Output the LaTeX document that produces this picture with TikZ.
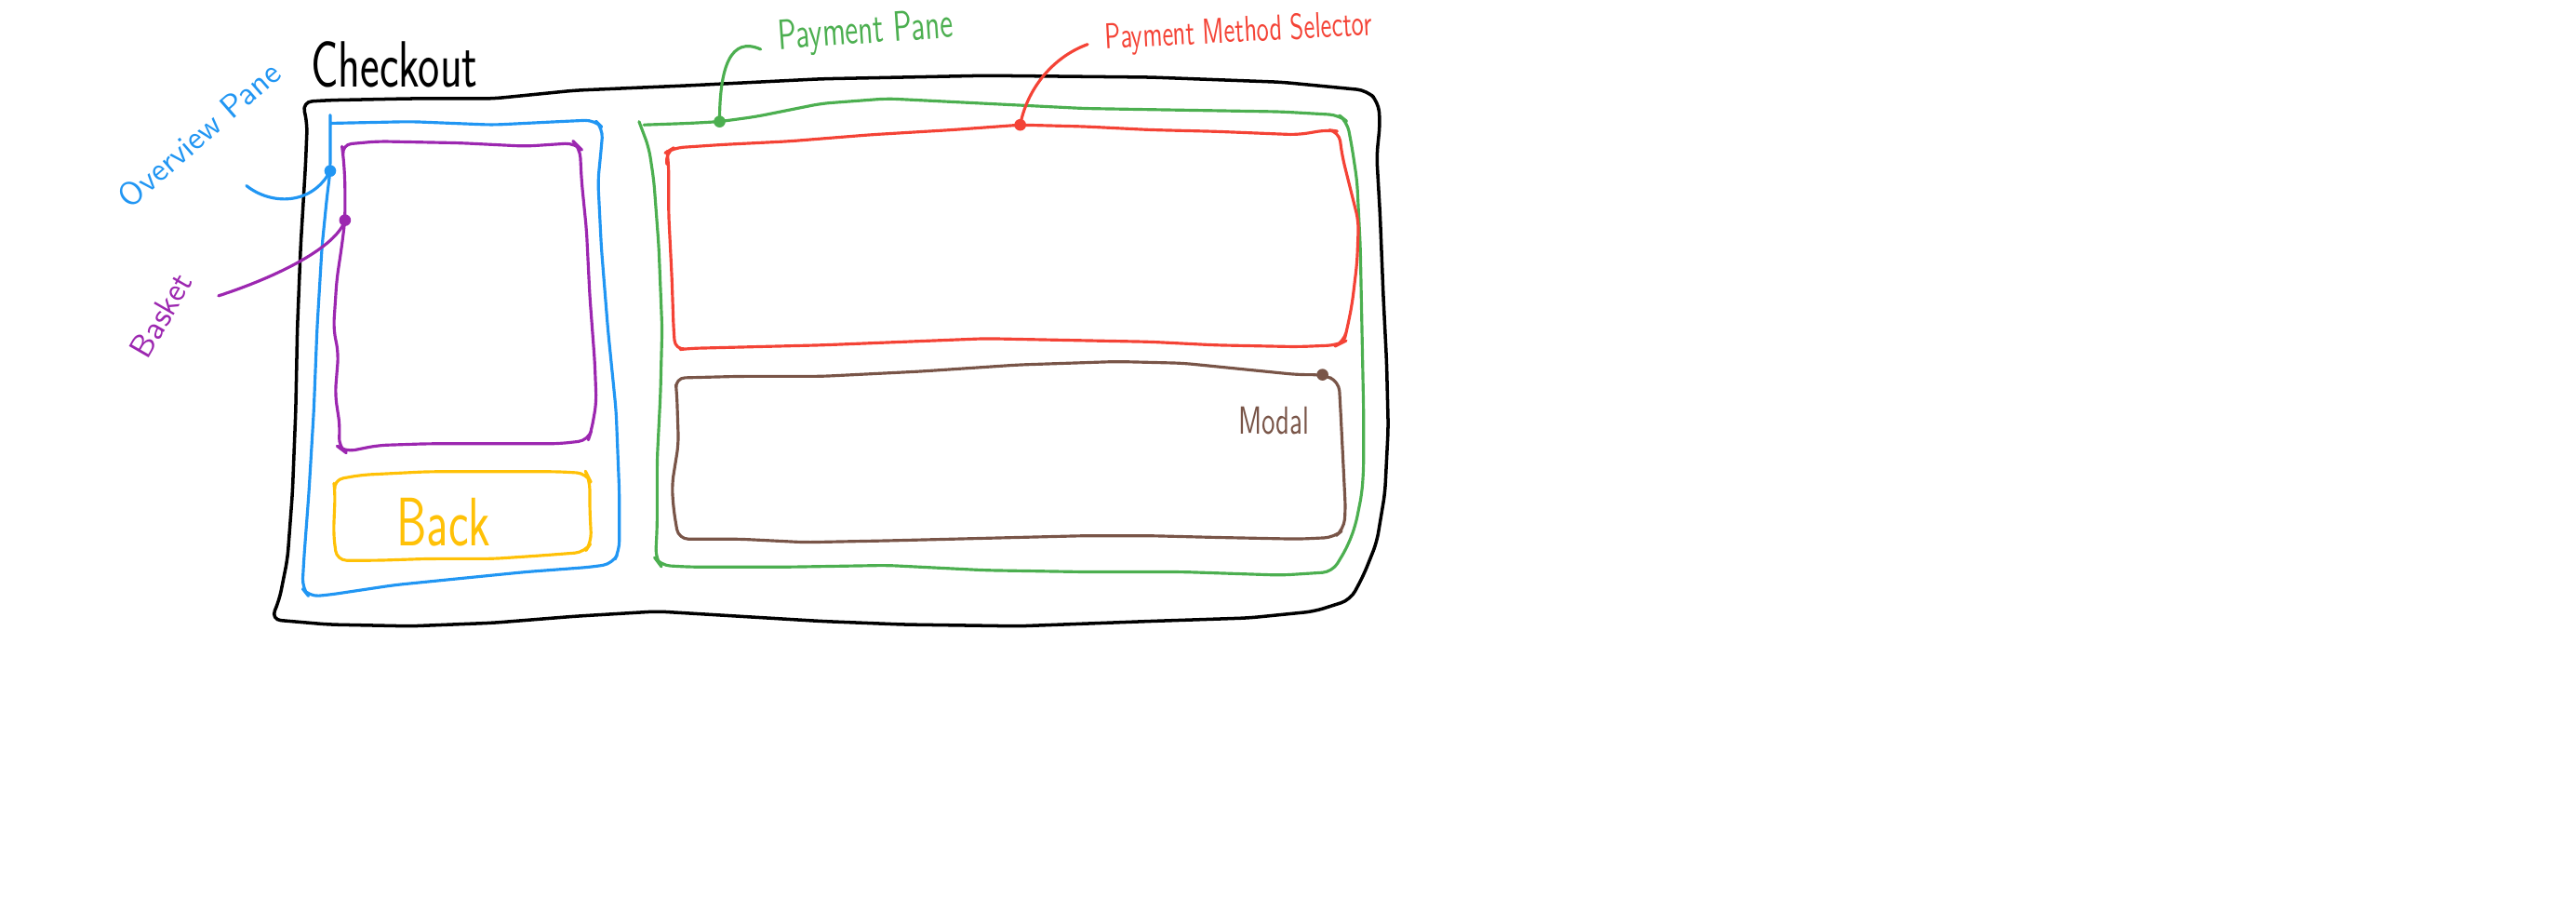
\documentclass[tikz,border=0pt]{standalone}
\usepackage{tikz}
\usetikzlibrary{positioning,calc}
\definecolor{sketchblue}{RGB}{33,150,243}
\definecolor{sketchpurple}{RGB}{156,39,176}
\definecolor{sketchgreen}{RGB}{76,175,80}
\definecolor{sketchred}{RGB}{244,67,54}
\definecolor{sketchbrown}{RGB}{121,85,72}
\definecolor{sketchyellow}{RGB}{255,193,7}
\newcommand{\narrow}[1]{\scalebox{0.7}[1]{#1}}
\tikzset{
  pane/.style={draw=#1, line width=0.9pt, rounded corners=3pt, line join=round, line cap=round},
  hand/.style={text=#1, inner sep=0pt},
  lead/.style={draw=#1, line width=0.9pt, line cap=round},
  blob/.style={fill=#1},
}

\begin{document}
\begin{tikzpicture}[x=0.01766cm, y=-0.01766cm]
\useasboundingbox (0,0) rectangle (1568,547);

% dots on the panes
\coordinate (ovdot) at (201,104);
\coordinate (bkdot) at (210,134);
\coordinate (ppdot) at (438,74);
\coordinate (pmdot) at (621,76);
\coordinate (mddot) at (805,228);

% checkout frame
\draw[pane=black, line width=1pt] (184,62) -- (187,75) -- (186,100) -- (183,150) -- (181,200) -- (180,250)
  -- (178,300) -- (175,340) -- (170,365) -- (165,377) -- (200,380) -- (250,381) -- (300,379) -- (350,375)
  -- (400,372) -- (450,375) -- (500,378) -- (550,380) -- (620,381) -- (700,378) -- (760,376) -- (800,372)
  -- (822,365) -- (830,350) -- (838,330) -- (843,300) -- (845,260) -- (844,220) -- (842,180) -- (840,130)
  -- (838,95) -- (840,75) -- (839,62) -- (832,55) -- (780,50) -- (700,47) -- (600,46) -- (500,48)
  -- (420,52) -- (350,55) -- (300,60) -- (250,60) -- (200,61) -- cycle;

% overview pane
\draw[pane=sketchblue] (201,70) -- (ovdot) -- (199,120) -- (196,150) -- (193,200) -- (191,250) -- (188,300)
  -- (185,340) -- (184,358) -- (188,363) -- (200,362) -- (240,356) -- (280,352) -- (320,348) -- (360,345)
  -- (373,343) -- (377,335) -- (377,300) -- (375,250) -- (370,200) -- (366,150) -- (364,110) -- (366,90)
  -- (367,78) -- (362,73) -- (340,74) -- (300,76) -- (250,74) -- (202,75);

% basket
\draw[pane=sketchpurple] (208,88) -- (230,86) -- (280,87) -- (320,89) -- (350,87) -- (353,90) -- (354,110)
  -- (357,140) -- (359,180) -- (362,220) -- (363,245) -- (360,262) -- (358,268) -- (340,270) -- (300,270)
  -- (260,270) -- (230,271) -- (210,275) -- (206,272) -- (207,260) -- (204,240) -- (206,215) -- (203,200)
  -- (205,170) -- (208,150) -- (bkdot) -- (210,110) -- (209,95) -- cycle;

% back button
\draw[pane=sketchyellow] (203,292) -- (220,289) -- (260,287) -- (300,287) -- (340,287) -- (357,288)
  -- (359,292) -- (359,310) -- (360,330) -- (356,336) -- (330,338) -- (300,340) -- (260,340) -- (230,341)
  -- (205,341) -- (203,325) -- (204,300) -- cycle;

% payment pane
\draw[pane=sketchgreen] (389,74) -- (395,90) -- (398,110) -- (401,150) -- (403,200) -- (402,240) -- (400,280)
  -- (400,320) -- (399,340) -- (402,344) -- (420,345) -- (480,345) -- (540,344) -- (600,347) -- (660,348)
  -- (720,348) -- (780,350) -- (811,348) -- (820,333) -- (825,320) -- (829,300) -- (830,285) -- (830,250)
  -- (829,200) -- (828,150) -- (826,110) -- (823,90) -- (820,74) -- (815,70) -- (780,68) -- (720,67)
  -- (660,66) -- (600,63) -- (540,60) -- (500,63) -- (460,71) -- (ppdot) -- (420,75) -- (392,76);

% payment method selector
\draw[pane=sketchred] (406,100) -- (405,93) -- (410,90) -- (440,88) -- (480,86) -- (530,82) -- (580,79)
  -- (pmdot) -- (660,77) -- (700,79) -- (740,80) -- (790,82) -- (808,79) -- (815,80) -- (817,95)
  -- (822,115) -- (827,135) -- (826,160) -- (823,185) -- (820,200) -- (818,208) -- (814,210) -- (790,211)
  -- (740,210) -- (700,208) -- (650,207) -- (600,206) -- (550,208) -- (500,210) -- (460,211) -- (420,212)
  -- (411,213) -- (410,200) -- (409,170) -- (407,130) -- (407,100) -- (406,92);

% modal
\draw[pane=sketchbrown] (411,230) -- (450,229) -- (500,229) -- (560,226) -- (620,222) -- (680,220)
  -- (720,221) -- (760,225) -- (790,228) -- (mddot) -- (815,232) -- (816,250) -- (818,290) -- (819,310)
  -- (818,322) -- (812,327) -- (790,328) -- (740,327) -- (700,326) -- (660,326) -- (620,327) -- (580,328)
  -- (540,329) -- (490,330) -- (450,328) -- (413,328) -- (410,310) -- (409,295) -- (413,270) -- (412,240)
  -- cycle;

\fill[blob=sketchblue] (ovdot) circle (1.8pt);
\fill[blob=sketchpurple] (bkdot) circle (1.8pt);
\fill[blob=sketchgreen] (ppdot) circle (1.8pt);
\fill[blob=sketchred] (pmdot) circle (1.8pt);
\fill[blob=sketchbrown] (mddot) circle (1.8pt);

% labels
\node[hand=black, font=\sffamily\fontsize{20}{20}\selectfont] (checkouttext) at (240,39) {\narrow{Checkout}};
\node[hand=sketchblue, rotate=41, font=\sffamily\fontsize{10}{10}\selectfont] (ovtext) at (121,82) {Overview Pane};
\node[hand=sketchpurple, rotate=60, font=\sffamily\fontsize{10}{10}\selectfont] (bktext) at (98,192) {Basket};
\node[hand=sketchgreen, rotate=4, font=\sffamily\fontsize{13}{13}\selectfont] (pptext) at (527,20) {\narrow{Payment Pane}};
\node[hand=sketchred, rotate=3, font=\sffamily\fontsize{11}{11}\selectfont] (pmtext) at (754,20) {\narrow{Payment Method Selector}};
\node[hand=sketchbrown, below left=0.34cm and 0.14cm of mddot, font=\sffamily\fontsize{12}{12}\selectfont] (mdtext) {\narrow{Modal}};
\node[hand=sketchyellow, font=\sffamily\fontsize{21}{21}\selectfont] (backtext) at (270,318) {\narrow{Back}};

% connectors
\coordinate (ovtail) at (150,113);
\coordinate (bktail) at (133,180);
\coordinate (pptail) at (463,30);
\coordinate (pmtail) at (662,27);
\draw[lead=sketchblue] (ovtail) .. controls (165,125) and (190,125) .. (ovdot);
\draw[lead=sketchpurple] (bktail) .. controls (170,168) and (205,150) .. (bkdot);
\draw[lead=sketchgreen] (pptail) .. controls (445,22) and (438,40) .. (ppdot);
\draw[lead=sketchred] (pmtail) .. controls (640,35) and (625,55) .. (pmdot);
\end{tikzpicture}
\end{document}
